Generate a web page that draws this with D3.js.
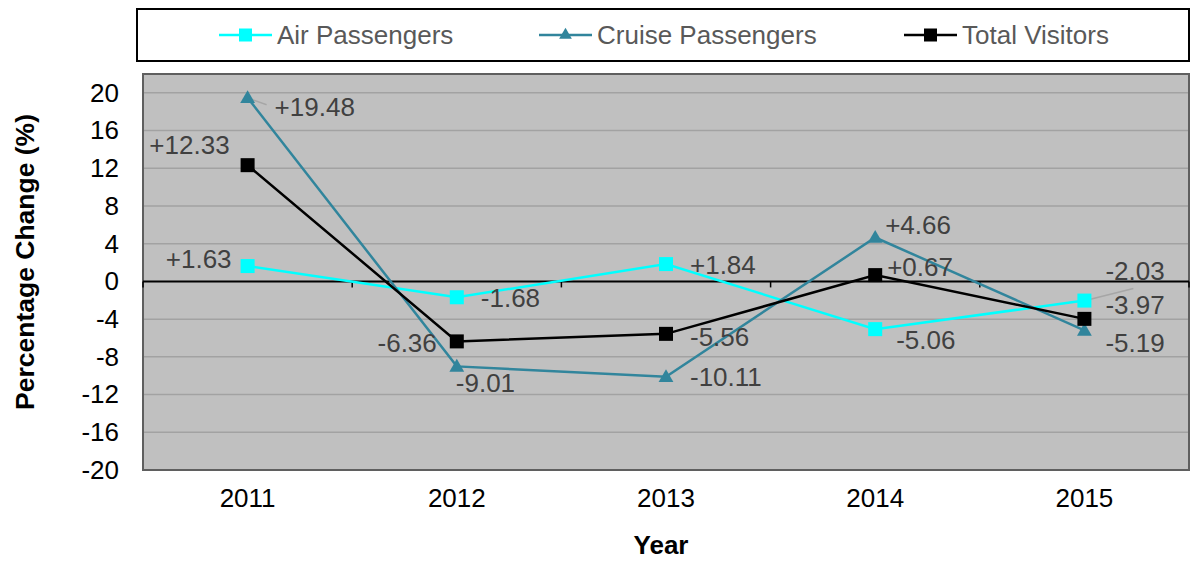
<!DOCTYPE html>
<html><head><meta charset="utf-8">
<script src="https://cdn.jsdelivr.net/npm/d3@7"></script>
<style>
html,body{margin:0;padding:0;background:#fff;}
svg{display:block;font-family:Arial,"Liberation Sans",sans-serif;}
</style></head>
<body>
<svg id="chart" width="1193" height="561"></svg>
<script>
const years = ["2011","2012","2013","2014","2015"];
const airPassengers = [1.63, -1.68, 1.84, -5.06, -2.03];
const cruisePassengers = [19.48, -9.01, -10.11, 4.66, -5.19];
const totalVisitors = [12.33, -6.36, -5.56, 0.67, -3.97];
const yTicks = [-20, -16, -12, -8, -4, 0, 4, 8, 12, 16, 20];
const seriesNames = ["Air Passengers", "Cruise Passengers", "Total Visitors"];

// label placement offsets (dx, dy, anchor) per series per point
const labelOffsets = {
  "Air Passengers": [[-16,-7,"end"],[24,1,"start"],[24,1,"start"],[21,11,"start"],[21,-30,"start"]],
  "Cruise Passengers": [[27,9,"start"],[-1,17,"start"],[24,0,"start"],[10,-12,"start"],[21,13,"start"]],
  "Total Visitors": [[-18,-20,"end"],[-20,2,"end"],[24,3,"start"],[12,-8,"start"],[21,-14,"start"]]
};
const leaderSeries = {"Air Passengers":[4], "Cruise Passengers":[0]};

const series = [
  {name: seriesNames[0], values: airPassengers, color: "#00FFFF", marker: "square"},
  {name: seriesNames[1], values: cruisePassengers, color: "#31859C", marker: "triangle"},
  {name: seriesNames[2], values: totalVisitors, color: "#000000", marker: "square"}
];

const FS = 26;
const hyph = s => s.replace(/\u2212/g, "-");

const svg = d3.select("#chart");
const plot = {x0: 143, x1: 1189, y0: 74, y1: 470};

const x = d3.scaleBand().domain(years).range([plot.x0, plot.x1]).padding(0);
const y = d3.scaleLinear().domain([-20, 22]).range([plot.y1, plot.y0]);
const cx = d => x(d) + x.bandwidth()/2;

// plot background
svg.append("rect").attr("x", plot.x0).attr("y", plot.y0)
  .attr("width", plot.x1-plot.x0).attr("height", plot.y1-plot.y0)
  .attr("fill", "#c0c0c0");

// gridlines
svg.append("g").selectAll("line").data(yTicks.filter(t => t !== 0)).join("line")
  .attr("x1", plot.x0).attr("x2", plot.x1)
  .attr("y1", d => y(d)).attr("y2", d => y(d))
  .attr("stroke", "#a2a2a2").attr("stroke-width", 1.5);

// plot border
svg.append("rect").attr("x", plot.x0).attr("y", plot.y0)
  .attr("width", plot.x1-plot.x0).attr("height", plot.y1-plot.y0)
  .attr("fill", "none").attr("stroke", "#5f5f5f").attr("stroke-width", 2);

// zero line (category axis) with ticks
const zeroG = svg.append("g").attr("transform", `translate(0,${y(0)})`);
zeroG.append("line").attr("x1", plot.x0).attr("x2", plot.x1).attr("stroke", "#000").attr("stroke-width", 2);
const boundaries = years.map(d => x(d)).concat([x(years[years.length-1]) + x.bandwidth()]);
zeroG.selectAll("line.tk").data(boundaries).join("line").attr("class","tk")
  .attr("x1", d => d).attr("x2", d => d).attr("y1", 0).attr("y2", 6)
  .attr("stroke", "#000").attr("stroke-width", 1.5);

// y axis labels
const yAxis = d3.axisLeft(y).tickValues(yTicks).tickSize(0).tickPadding(0)
  .tickFormat(d => hyph(d3.format("d")(d)));
const yG = svg.append("g").attr("transform", `translate(${plot.x0 - 24},0)`).call(yAxis);
yG.select(".domain").remove();
yG.selectAll("text").attr("font-size", FS).attr("fill", "#000")
  .attr("font-family", "Arial, 'Liberation Sans', sans-serif");

// x axis labels
const xLab = d3.axisBottom(x).tickSize(0).tickPadding(0);
const xG = svg.append("g").attr("transform", `translate(0,${plot.y1 + 19})`).call(xLab);
xG.select(".domain").remove();
xG.selectAll("text").attr("font-size", FS).attr("fill", "#000")
  .attr("font-family", "Arial, 'Liberation Sans', sans-serif");

// axis titles
svg.append("text").attr("x", 661).attr("y", 545).attr("text-anchor", "middle")
  .attr("dominant-baseline", "central").attr("font-size", FS).attr("font-weight", "bold")
  .text("Year");
svg.append("text").attr("transform", "translate(25,262) rotate(-90)")
  .attr("text-anchor", "middle").attr("dominant-baseline", "central")
  .attr("font-size", FS + 0.5).attr("font-weight", "bold").text("Percentage Change (%)");

const line = d3.line().x((d, i) => cx(years[i])).y(d => y(d));
const triPath = d3.symbol().type(d3.symbolTriangle).size(95);
const triLeg = d3.symbol().type(d3.symbolTriangle).size(70);

// leader lines
series.forEach(s => {
  (leaderSeries[s.name] || []).forEach(i => {
    const off = labelOffsets[s.name][i];
    const px = cx(years[i]), py = y(s.values[i]);
    svg.append("line").attr("x1", px + 5).attr("y1", py + (off[1] < 0 ? -1 : 2))
      .attr("x2", px + off[0] - 8 + (off[1] < 0 ? 36 : 0)).attr("y2", py + off[1] + (off[1] < 0 ? 18 : -2))
      .attr("stroke", "#a6a6a6").attr("stroke-width", 1.5);
  });
});

// lines and markers
series.forEach(s => {
  svg.append("path").datum(s.values).attr("d", line)
    .attr("fill", "none").attr("stroke", s.color).attr("stroke-width", 2.5);
  const g = svg.append("g");
  if (s.marker === "square") {
    g.selectAll("rect").data(s.values).join("rect")
      .attr("x", (d, i) => cx(years[i]) - 7).attr("y", d => y(d) - 7)
      .attr("width", 14).attr("height", 14).attr("fill", s.color);
  } else {
    g.selectAll("path").data(s.values).join("path")
      .attr("d", triPath)
      .attr("transform", (d, i) => `translate(${cx(years[i])},${y(d) + 1})`)
      .attr("fill", s.color);
  }
});

// data labels
series.forEach(s => {
  svg.append("g").selectAll("text").data(s.values).join("text")
    .attr("x", (d, i) => cx(years[i]) + labelOffsets[s.name][i][0])
    .attr("y", (d, i) => y(d) + labelOffsets[s.name][i][1])
    .attr("text-anchor", (d, i) => labelOffsets[s.name][i][2])
    .attr("dominant-baseline", "central")
    .attr("font-size", FS).attr("fill", "#404040")
    .text(d => (d > 0 ? "+" : "") + hyph(d3.format(".2f")(d)));
});

// legend
const leg = svg.append("g");
leg.append("rect").attr("x", 137).attr("y", 9).attr("width", 1052).attr("height", 52)
  .attr("fill", "#fff").attr("stroke", "#000").attr("stroke-width", 2);
const legX = [219, 539, 904];
series.forEach((s, i) => {
  const g = leg.append("g").attr("transform", `translate(${legX[i]},35)`);
  g.append("line").attr("x1", 0).attr("x2", 53).attr("stroke", s.color).attr("stroke-width", 2.5);
  if (s.marker === "square") {
    g.append("rect").attr("x", 20).attr("y", -6.5).attr("width", 13).attr("height", 13).attr("fill", s.color);
  } else {
    g.append("path").attr("d", triLeg).attr("transform", "translate(26.5,0)").attr("fill", s.color);
  }
  g.append("text").attr("x", 58).attr("y", 0).attr("dominant-baseline", "central")
    .attr("font-size", FS).attr("fill", "#595959").text(s.name);
});
</script>
</body></html>
